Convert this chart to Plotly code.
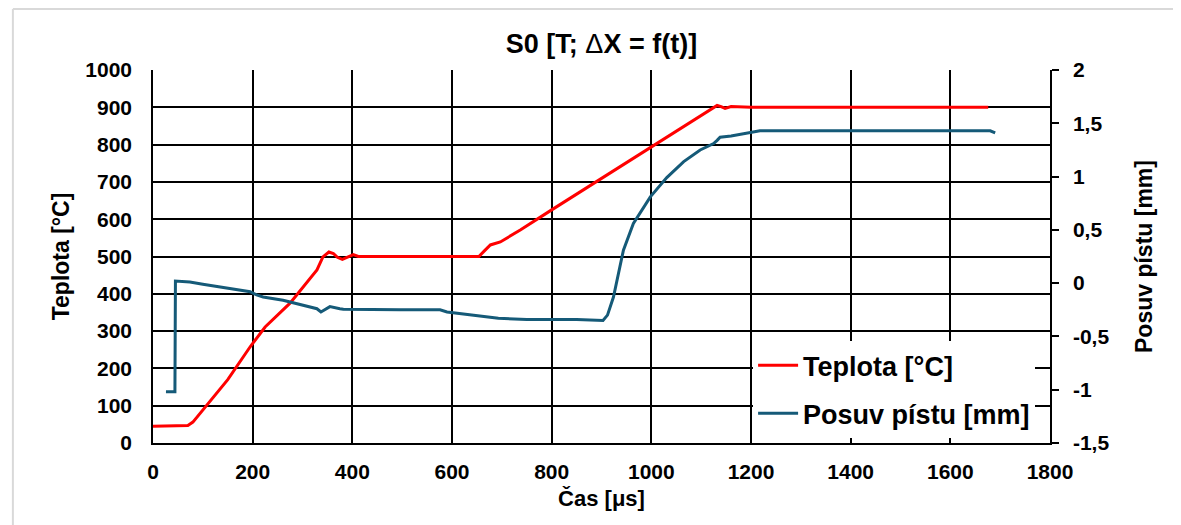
import plotly.graph_objects as go

# --- data ---
t_temp = [0, 60, 70, 80, 100, 150, 195, 210, 225, 275, 300, 329, 341, 353, 362, 370, 380,
          392, 402, 412, 500, 600, 654, 665, 677, 697, 737, 800, 900, 1000, 1100, 1132,
          1140, 1148, 1160, 1200, 1300, 1400, 1500, 1600, 1676]
temp = [45, 45, 47, 56, 88, 170, 258, 285, 311, 375, 415, 464, 499, 512, 508, 498, 492,
        498, 505, 500, 500, 500, 500, 515, 531, 539, 571, 625, 710, 795, 880, 905,
        902, 897, 902, 900, 900, 900, 900, 900, 900]

t_pos = [26, 44, 45, 74, 100, 150, 195, 208, 221, 261, 295, 329, 337, 355, 375, 382, 496,
         576, 590, 643, 660, 693, 750, 850, 903, 912, 924, 944, 964, 998, 1031, 1065,
         1098, 1125, 1132, 1138, 1160, 1198, 1218, 1300, 1500, 1680, 1690]
pos = [-1.02, -1.02, 0.02, 0.01, -0.01, -0.05, -0.08, -0.11, -0.13, -0.16, -0.20, -0.24,
       -0.27, -0.22, -0.24, -0.245, -0.25, -0.25, -0.27, -0.30, -0.31, -0.33, -0.34, -0.34,
       -0.35, -0.30, -0.13, 0.31, 0.56, 0.81, 0.99, 1.14, 1.25, 1.31, 1.34, 1.37, 1.38,
       1.41, 1.43, 1.43, 1.43, 1.43, 1.41]

x_ticks = [0, 200, 400, 600, 800, 1000, 1200, 1400, 1600, 1800]
y_ticks = [0, 100, 200, 300, 400, 500, 600, 700, 800, 900, 1000]
y2_ticks = [-1.5, -1, -0.5, 0, 0.5, 1, 1.5, 2]
y2_labels = ["-1,5", "-1", "-0,5", "0", "0,5", "1", "1,5", "2"]

FONT = "Liberation Sans, Arial, sans-serif"
RED = "#ff0000"
BLUE = "#155a78"

fig = go.Figure()
fig.add_trace(go.Scatter(x=t_temp, y=temp, name="Teplota [°C]", mode="lines",
                         line=dict(color=RED, width=3), legendgroup="a"))
fig.add_trace(go.Scatter(x=t_pos, y=pos, name="Posuv pístu [mm]", mode="lines",
                         line=dict(color=BLUE, width=3), yaxis="y2", legendgroup="b"))

bold = dict(family=FONT, color="black", weight="bold")

fig.update_layout(
    width=1165, height=517,
    margin=dict(l=145, r=123, t=62, b=82),
    paper_bgcolor="white", plot_bgcolor="white",
    title=dict(text="<b>S0 [T; </b>Δ<b>X = f(t)]</b>", xref="paper", x=0.5, xanchor="center",
               y=0.932, yanchor="middle",
               font=dict(size=27, family=FONT, color="black", weight="normal")),
    showlegend=True,
    legend=dict(x=0.669, y=0.273, xanchor="left", yanchor="top", bgcolor="white",
                font=dict(size=27, **bold), tracegroupgap=10, itemwidth=40,
                traceorder="grouped"),
    xaxis=dict(range=[0, 1800], tickvals=x_ticks, ticktext=[str(v) for v in x_ticks],
               showgrid=True, gridcolor="black", gridwidth=1.5,
               showline=True, linecolor="black", linewidth=1.5,
               ticks="", ticklabelstandoff=9, tickfont=dict(size=21, **bold),
               zeroline=False,
               title=dict(text="Čas [μs]", font=dict(size=22, **bold), standoff=9)),
    yaxis=dict(range=[0, 1000], tickvals=y_ticks, ticktext=[str(v) for v in y_ticks],
               showgrid=True, gridcolor="black", gridwidth=1.5,
               showline=True, linecolor="black", linewidth=1.5,
               ticks="", ticklabelstandoff=15, tickfont=dict(size=21, **bold),
               zeroline=False,
               title=dict(text="Teplota [°C]", font=dict(size=23, **bold), standoff=9)),
    yaxis2=dict(range=[-1.5, 2], overlaying="y", side="right",
                tickvals=y2_ticks, ticktext=y2_labels, showgrid=False,
                showline=True, linecolor="black", linewidth=1.5,
                ticks="outside", ticklen=7, tickwidth=1.5, tickcolor="black",
                ticklabelstandoff=10, tickfont=dict(size=21, **bold), zeroline=False,
                title=dict(text="Posuv pístu [mm]", font=dict(size=23, **bold), standoff=27)),
    shapes=[
        dict(type="line", xref="paper", yref="paper", x0=-0.1562, x1=1.3, y0=1.1635, y1=1.1635,
             line=dict(color="#d9d9d9", width=2)),
        dict(type="line", xref="paper", yref="paper", x0=-0.1562, x1=-0.1562, y0=1.1635, y1=-0.4,
             line=dict(color="#d9d9d9", width=2)),
    ],
)

fig.write_html("out.html")
